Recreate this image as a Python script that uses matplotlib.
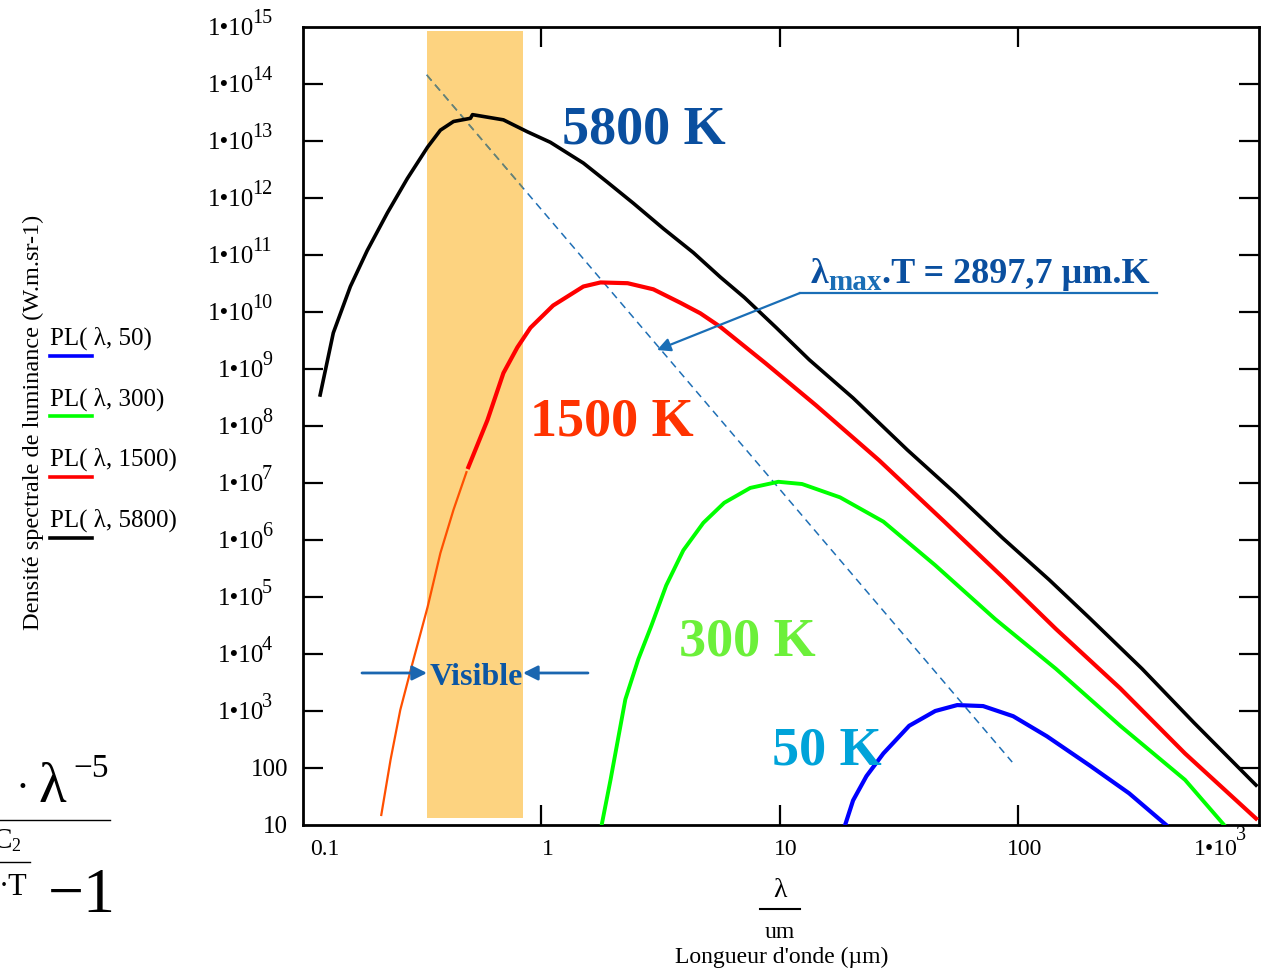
"""
Spectral luminance of black bodies (Planck law) at 50, 300, 1500 and 5800 K
"""

#---------------------------------------------------------------------------------------------------
# Import Modules
#---------------------------------------------------------------------------------------------------

import matplotlib.pyplot as plt
from matplotlib.lines import Line2D
from matplotlib.patches import Rectangle
from matplotlib.transforms import blended_transform_factory


#---------------------------------------------------------------------------------------------------
# Data
#---------------------------------------------------------------------------------------------------

# 5800 K
lam_5800 = [0.118, 0.134, 0.158, 0.186, 0.226, 0.274, 0.333, 0.377, 0.428, 0.504, 0.514, 0.693,
            0.874, 1.09, 1.50, 1.89, 2.43, 3.25, 4.34, 5.63, 7.10, 9.67, 13.3, 20.3, 34.3, 54.5,
            85.7, 135, 199, 331, 547, 995]
L_5800 = [3.5e8, 4.3e9, 2.8e10, 1.2e11, 5.5e11, 2.2e12, 7.8e12, 1.55e13, 2.2e13, 2.5e13, 2.9e13,
          2.35e13, 1.45e13, 9.5e12, 4.1e12, 1.9e12, 8.1e11, 2.9e11, 1.1e11, 4.1e10, 1.8e10, 5.3e9,
          1.45e9, 3.1e8, 3.8e7, 6.6e6, 1.1e6, 2.0e5, 4.3e4, 5.5e3, 6.2e2, 50]

# 1500 K
lam_1500 = [0.494, 0.594, 0.693, 0.793, 0.90, 1.12, 1.50, 1.77, 2.30, 2.95, 3.83, 4.64, 5.63, 8.70,
            14.2, 26.1, 49.0, 87.4, 144, 268, 501, 995]
L_1500 = [1.9e7, 1.27e8, 8.5e8, 2.4e9, 5.3e9, 1.3e10, 2.8e10, 3.3e10, 3.2e10, 2.5e10, 1.45e10,
          9.5e9, 5.5e9, 1.27e9, 2.3e8, 2.5e7, 2.1e6, 2.1e5, 2.75e4, 2.5e3, 1.8e2, 13]

# hand drawn short-wavelength continuation of the 1500 K curve
lam_1500_uv = [0.213, 0.233, 0.256, 0.288, 0.333, 0.377, 0.428, 0.485]
L_1500_uv = [15, 1.4e2, 1.05e3, 6.9e3, 6.6e4, 5.9e5, 3.4e6, 1.55e7]

# 300 K
lam_300 = [1.79, 1.95, 2.25, 2.55, 2.89, 3.34, 3.94, 4.78, 5.85, 7.52, 9.86, 12.4, 17.9, 27.2,
           44.9, 80.1, 144, 268, 501, 731]
L_300 = [10, 62, 1.6e3, 8.1e3, 3.1e4, 1.6e5, 6.6e5, 2.0e6, 4.5e6, 8.2e6, 1.05e7, 9.6e6, 5.6e6,
         2.1e6, 3.6e5, 4.1e4, 5.5e3, 5.5e2, 62, 10]

# 50 K
lam_50 = [18.8, 20.3, 23.1, 27.2, 34.9, 44.9, 55.5, 71.3, 95.3, 132, 200, 292, 418]
L_50 = [10, 27, 72, 1.8e2, 5.5e2, 1.0e3, 1.27e3, 1.22e3, 8.1e2, 3.6e2, 1.1e2, 36, 10]

# Wien displacement line
lam_wien = [0.33, 94.4]
L_wien = [1.45e14, 127]

# visible band (um)
visible = [0.33, 0.84]

legend_labels = ['PL( \u03bb, 50)', 'PL( \u03bb, 300)', 'PL( \u03bb, 1500)', 'PL( \u03bb, 5800)']
temp_labels = ['50 K', '300 K', '1500 K', '5800 K']

ytick_vals = [1e1, 1e2, 1e3, 1e4, 1e5, 1e6, 1e7, 1e8, 1e9, 1e10, 1e11, 1e12, 1e13, 1e14, 1e15]
ytick_base = ['10', '100'] + ['1\u202210'] * 13
ytick_exp = ['', ''] + [str(i) for i in range(3, 16)]

xtick_vals = [0.1, 1, 10, 100, 1000]
xtick_base = ['0.1', '1', '10', '100', '1\u202210']
xtick_exp = ['', '', '', '', '3']


#---------------------------------------------------------------------------------------------------
# Create Plot
#---------------------------------------------------------------------------------------------------

plt.rcParams['font.family'] = ['Liberation Serif', 'DejaVu Serif']

W, H = 1272, 972
PX = 0.72   # points per pixel at 100 dpi

fig = plt.figure(figsize=(W / 100, H / 100), dpi=100)
ax = fig.add_axes([303 / W, 1 - 825 / H, (1259 - 303) / W, (825 - 27) / H])

ax.set_xscale('log')
ax.set_yscale('log')
ax.set_xlim(0.1, 1024)
ax.set_ylim(10, 1e15)

# visible band
trans = blended_transform_factory(ax.transData, ax.transAxes)
band = Rectangle((visible[0], 0.009), visible[1] - visible[0], 0.986, transform=trans,
                 facecolor='#fdd380', edgecolor='none', zorder=1)
ax.add_patch(band)

# Wien line (greyish where it crosses the band)
ax.plot(lam_wien, L_wien, color='#1f6fb5', lw=1.1, ls=(0, (5, 3.5)), zorder=2)
wl, = ax.plot(lam_wien, L_wien, color='#6e846e', lw=1.1, ls=(0, (5, 3.5)), zorder=2.5)
wl.set_clip_path(band)

# curves
ax.plot(lam_1500_uv, L_1500_uv, color='#ff5000', lw=1.6, zorder=3)
ax.plot(lam_50, L_50, color='#0000ff', lw=3.0, zorder=4)
ax.plot(lam_300, L_300, color='#00ff00', lw=2.8, zorder=4)
ax.plot(lam_1500, L_1500, color='#ff0000', lw=3.0, zorder=4)
ax.plot(lam_5800, L_5800, color='#000000', lw=2.6, zorder=5)

# frame and ticks
for s in ax.spines.values():
    s.set_linewidth(2.0)
ax.set_xticks([1, 10, 100])
ax.set_yticks(ytick_vals[1:-1])
ax.minorticks_off()
ax.tick_params(which='major', direction='in', length=20 * PX, width=1.6, top=True, right=True,
               labelleft=False, labelbottom=False)


def sci_label(xy, xycoords, dx, base_dy, exp_dy, base, exp, fs_base, fs_exp):
    """
    Mathcad-like '1.10^n' tick label, right aligned at the offset point
    """
    kw = dict(textcoords='offset points', ha='right', va='baseline', annotation_clip=False)
    if not exp:
        ax.annotate(base, xy=xy, xycoords=xycoords, xytext=(dx, base_dy), fontsize=fs_base, **kw)
        return
    e = ax.annotate(exp, xy=xy, xycoords=xycoords, xytext=(dx, exp_dy), fontsize=fs_exp, **kw)
    ax.annotate(base, xy=(0, xy[1]), xycoords=(e, xycoords[1]), xytext=(1.5, base_dy),
                fontsize=fs_base, **kw)


# y tick labels
for v, b, e in zip(ytick_vals, ytick_base, ytick_exp):
    dx = -31 * PX if e else -15 * PX
    sci_label((0, v), ('axes fraction', 'data'), dx, -8.3 * PX, 4 * PX, b, e, 18, 14.5)

# x tick labels
for v, b, e in zip(xtick_vals, xtick_base, xtick_exp):
    if e:
        sci_label((v, 0), ('data', 'axes fraction'), -10.5 * PX, -30 * PX, -15 * PX, b, e, 17, 14.5)
    else:
        dx = 22 * PX if v == xtick_vals[0] else 6 * PX
        ax.annotate(b, xy=(v, 0), xycoords=('data', 'axes fraction'), xytext=(dx, -30 * PX),
                    textcoords='offset points', ha='center', va='baseline', fontsize=17,
                    annotation_clip=False)

# temperature labels
tcols = ['#00a3d9', '#6cf03a', '#ff3300', '#0a4f9f']
tpos = [(0.5478, 0.0753), (0.4644, 0.2118), (0.3232, 0.4887), (0.3567, 0.8543)]
for t, c, p in zip(temp_labels, tcols, tpos):
    ax.text(p[0], p[1], t, transform=ax.transAxes, color=c, fontsize=39, fontweight='bold',
            ha='center', va='baseline', zorder=6)

# Wien law annotation
blue = '#0a4f9f'
t1 = ax.text(0.5314, 0.6792, '\u03bb', transform=ax.transAxes, color=blue, fontsize=26,
             fontweight='bold', ha='left', va='baseline')
t2 = ax.annotate('max', xy=(1, 0), xycoords=t1, xytext=(0, -3.5), textcoords='offset points',
                 color='#1a6eb6', fontsize=21, fontweight='bold', ha='left', va='bottom')
ax.annotate('.T = 2897,7 \u00b5m.K', xy=(1, 0), xycoords=(t2, t1), color=blue, fontsize=26,
            fontweight='bold', ha='left', va='bottom')
ax.add_line(Line2D([0.5199, 0.8933], [0.6667, 0.6667], transform=ax.transAxes, color='#1a6eb6',
                   lw=1.6, zorder=6))
ax.annotate('', xy=(0.3703, 0.5952), xycoords='axes fraction', xytext=(0.5199, 0.6667),
            textcoords='axes fraction',
            arrowprops=dict(arrowstyle='-|>', color='#1a6eb6', lw=1.6, mutation_scale=20,
                            shrinkA=0, shrinkB=0), zorder=6)

# visible band annotation
ax.text(0.181, 0.1754, 'Visible', transform=ax.transAxes, color='#0b56a4', fontsize=23,
        fontweight='bold', ha='center', va='baseline', zorder=6)
for x0, x1 in [(0.0617, 0.1297), (0.2981, 0.2301)]:
    ax.annotate('', xy=(x1, 0.1905), xycoords='axes fraction', xytext=(x0, 0.1905),
                textcoords='axes fraction',
                arrowprops=dict(arrowstyle='-|>', color='#1a66b0', lw=2.0, mutation_scale=22,
                                shrinkA=0, shrinkB=0), zorder=6)

# legend (Mathcad style, left of the y axis)
lcols = ['#0000ff', '#00ff00', '#ff0000', '#000000']
for i, (lab, c) in enumerate(zip(legend_labels, lcols)):
    yb = 345 + 60.5 * i
    fig.text(50 / W, 1 - yb / H, lab, fontsize=18, ha='left', va='baseline')
    fig.add_artist(Line2D([50 / W, 92 / W], [1 - (yb + 11) / H] * 2, color=c, lw=2.6,
                          transform=fig.transFigure))

# axis titles
fig.text(33 / W, 1 - 422 / H, 'Densit\u00e9 spectrale de luminance (W.m.sr-1)', rotation=90,
         ha='center', va='center', fontsize=17.5)
fig.text(780 / W, 1 - 890 / H, '\u03bb', ha='center', va='center', fontsize=20)
fig.add_artist(Line2D([760 / W, 800 / W], [1 - 909 / H] * 2, color='k', lw=1.5,
                      transform=fig.transFigure))
fig.text(780 / W, 1 - 932 / H, 'um', ha='center', va='center', fontsize=17)
fig.text(782 / W, 1 - 957 / H, "Longueur d'onde (\u00b5m)", ha='center', va='center', fontsize=17)

# cut-off fragment of the Planck formula at the lower left (clipped by the page edge as in the source)
fig.text(16 / W, 1 - 800 / H, '\u00b7', fontsize=30, ha='left', va='baseline')
fig.text(38 / W, 1 - 802 / H, '\u03bb', fontsize=41, ha='left', va='baseline')
fig.text(73 / W, 1 - 777 / H, '\u22125', fontsize=24, ha='left', va='baseline')
fig.add_artist(Line2D([0, 110 / W], [1 - 820 / H] * 2, color='k', lw=1.0, transform=fig.transFigure))
fig.text(12 / W, 1 - 848 / H, 'C', fontsize=21, ha='right', va='baseline')
fig.text(11 / W, 1 - 851 / H, '2', fontsize=13, ha='left', va='baseline')
fig.add_artist(Line2D([0, 30 / W], [1 - 862 / H] * 2, color='k', lw=1.0, transform=fig.transFigure))
fig.text(-1 / W, 1 - 895 / H, '\u00b7T', fontsize=22, ha='left', va='baseline')
fig.text(48 / W, 1 - 912 / H, '\u22121', fontsize=46, ha='left', va='baseline')

plt.savefig('out.png', dpi=100)


"""
End plot.py
"""
